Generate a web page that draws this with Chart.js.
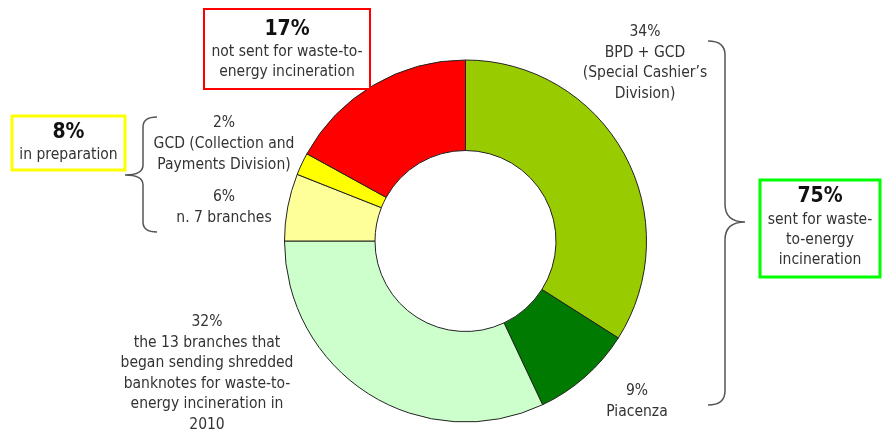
<!DOCTYPE html>
<html>
<head>
<meta charset="utf-8">
<script src="https://cdn.jsdelivr.net/npm/chart.js@4"></script>
<style>
html, body { margin:0; padding:0; background:#fff; }
#wrap { width:883px; height:432px; position:relative; }
</style>
</head>
<body>
<div id="wrap"><canvas id="donutChart"></canvas></div>
<script>
/* Data */
const categories = [
    "BPD + GCD (Special Cashier's Division)",
    "Piacenza",
    "the 13 branches that began sending shredded banknotes for waste-to-energy incineration in 2010",
    "n. 7 branches",
    "GCD (Collection and Payments Division)",
    "not sent for waste-to-energy incineration"
];
const shares = [34, 9, 32, 6, 2, 17];
const sliceColors = ["#99cc00", "#007a00", "#ccffcc", "#ffff99", "#ffff00", "#ff0000"];

// which slices belong to each group
const sentGroup = [0, 1, 2];
const prepGroup = [3, 4];
const notSentGroup = [5];

const FONT = '"DejaVu Sans Condensed", "DejaVu Sans", sans-serif';
const TEXT = "#333";

function total(group){
    return group.reduce((s, i) => s + shares[i], 0);
}

/* Slice labels: wrapped lines under the percentage */
const sliceLabels = [
    {i:0, x:645, y:32, gap:20.5, lines:["BPD + GCD", "(Special Cashier\u2019s", "Division)"]},
    {i:1, x:637, y:391, gap:21, lines:["Piacenza"]},
    {i:2, x:207, y:322, gap:20.6, lines:["the 13 branches that", "began sending shredded", "banknotes for waste-to-", "energy incineration in", "2010"]},
    {i:3, x:224, y:197, gap:20.5, lines:["n. 7 branches"]},
    {i:4, x:224, y:123, gap:21, lines:["GCD (Collection and", "Payments Division)"]}
];

/* Group boxes */
const groupBoxes = [
    {group:notSentGroup, x:204, y:9, w:166, h:80, color:"#ff0000", lw:2, ys:[30, 52, 72],
     lines:["not sent for waste-to-", "energy incineration"]},
    {group:prepGroup, x:12, y:116, w:113, h:54, color:"#ffff00", lw:3, ys:[133, 155],
     lines:["in preparation"]},
    {group:sentGroup, x:760, y:180, w:120, h:97, color:"#00ff00", lw:3, ys:[197, 220, 240, 260],
     lines:["sent for waste-", "to-energy", "incineration"]}
];

/* curly brace, tip pointing away from x0 */
function brace(ctx, x0, xm, xt, yTop, yTip, yBot, r, rt){
    ctx.beginPath();
    ctx.moveTo(x0, yTop);
    ctx.quadraticCurveTo(xm, yTop, xm, yTop + r);
    ctx.lineTo(xm, yTip - rt);
    ctx.quadraticCurveTo(xm, yTip, xt, yTip);
    ctx.quadraticCurveTo(xm, yTip, xm, yTip + rt);
    ctx.lineTo(xm, yBot - r);
    ctx.quadraticCurveTo(xm, yBot, x0, yBot);
    ctx.stroke();
}

const annotations = {
    id: "annotations",
    afterDraw(chart){
        const ctx = chart.ctx;
        ctx.save();
        ctx.textAlign = "center";
        ctx.textBaseline = "middle";
        ctx.fillStyle = TEXT;

        sliceLabels.forEach(l => {
            ctx.font = "15.5px " + FONT;
            ctx.fillText(shares[l.i] + "%", l.x, l.y);
            l.lines.forEach((t, k) => ctx.fillText(t, l.x, l.y + l.gap * (k + 1)));
        });

        groupBoxes.forEach(b => {
            ctx.strokeStyle = b.color;
            ctx.lineWidth = b.lw;
            ctx.strokeRect(b.x, b.y, b.w, b.h);
            const cx = b.x + b.w / 2;
            ctx.fillStyle = "#111";
            ctx.font = "bold 21px " + FONT;
            ctx.fillText(total(b.group) + "%", cx, b.ys[0]);
            ctx.fillStyle = TEXT;
            ctx.font = "15.5px " + FONT;
            b.lines.forEach((t, k) => ctx.fillText(t, cx, b.ys[k + 1]));
        });

        ctx.strokeStyle = "#555";
        ctx.lineWidth = 1.5;
        brace(ctx, 708, 725, 745, 41, 222, 405, 14, 18);
        brace(ctx, 157, 143, 125, 117, 175, 232, 10, 10);
        ctx.restore();
    }
};

new Chart(document.getElementById("donutChart"), {
    type: "doughnut",
    data: {
        labels: categories,
        datasets: [{
            data: shares,
            backgroundColor: sliceColors,
            borderColor: "#222",
            borderWidth: 1
        }]
    },
    options: {
        responsive: true,
        maintainAspectRatio: false,
        animation: false,
        cutout: "50%",
        layout: { padding: { top: 59, bottom: 9, left: 284, right: 236 } },
        plugins: {
            legend: { display: false },
            tooltip: { enabled: false }
        }
    },
    plugins: [annotations]
});
</script>
</body>
</html>
